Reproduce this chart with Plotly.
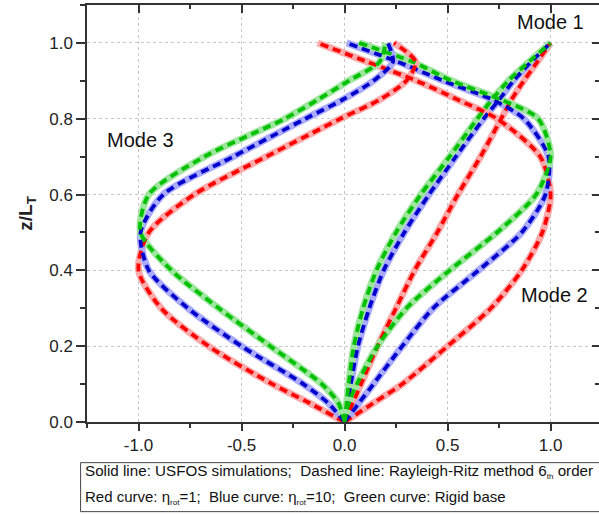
import plotly.graph_objects as go

# Normalised height along the tower
z = [0, 0.05, 0.1, 0.2, 0.3, 0.4, 0.5, 0.6, 0.7, 0.8, 0.85, 0.9, 0.95, 1.0]

# Mode shapes (normalised displacement) for the three base conditions
mode1_red = [0, 0.04, 0.08, 0.16, 0.25, 0.34, 0.45, 0.55, 0.66, 0.76, 0.81, 0.87, 0.935, 1.0]
mode1_blue = [0, 0.015, 0.03, 0.065, 0.12, 0.19, 0.29, 0.41, 0.54, 0.675, 0.75, 0.82, 0.905, 1.0]
mode1_green = [0, 0.01, 0.02, 0.045, 0.09, 0.155, 0.25, 0.37, 0.51, 0.645, 0.715, 0.795, 0.895, 1.0]

mode2_red = [0, 0.14, 0.28, 0.50, 0.71, 0.86, 0.96, 1.0, 0.95, 0.74, 0.55, 0.35, 0.11, -0.13]
mode2_blue = [0, 0.07, 0.14, 0.28, 0.43, 0.65, 0.86, 0.975, 0.99, 0.87, 0.72, 0.48, 0.26, 0.01]
mode2_green = [0, 0.02, 0.06, 0.16, 0.30, 0.51, 0.74, 0.93, 1.0, 0.94, 0.76, 0.52, 0.33, 0.07]

mode3_red = [0, -0.17, -0.35, -0.66, -0.89, -1.0, -0.95, -0.73, -0.38, -0.02, 0.17, 0.30, 0.345, 0.24]
mode3_blue = [0, -0.08, -0.20, -0.50, -0.76, -0.95, -0.99, -0.88, -0.54, -0.19, -0.01, 0.14, 0.235, 0.21]
mode3_green = [0, -0.03, -0.11, -0.36, -0.61, -0.84, -0.99, -0.95, -0.68, -0.29, -0.13, 0.02, 0.17, 0.20]

x_ticks = [-1.0, -0.5, 0.0, 0.5, 1.0]
x_tick_labels = ["-1.0", "-0.5", "0.0", "0.5", "1.0"]
y_ticks = [0.0, 0.2, 0.4, 0.6, 0.8, 1.0]
y_tick_labels = ["0.0", "0.2", "0.4", "0.6", "0.8", "1.0"]

series = [
    (mode1_red, "red"), (mode1_blue, "blue"), (mode1_green, "green"),
    (mode2_red, "red"), (mode2_blue, "blue"), (mode2_green, "green"),
    (mode3_red, "red"), (mode3_blue, "blue"), (mode3_green, "green"),
]

solid_colors = {"red": "#ffaaaa", "blue": "#aaaaff", "green": "#9ee69e"}
dash_colors = {"red": "#ff0000", "blue": "#0000cc", "green": "#00c000"}

fig = go.Figure()

# USFOS simulations: wide pale solid lines
for xs, c in series:
    fig.add_trace(go.Scatter(
        x=xs, y=z, mode="lines", line=dict(color=solid_colors[c], width=7, shape="spline", smoothing=0.75),
        showlegend=False, hoverinfo="skip"))

# Rayleigh-Ritz results: dashed lines on top
for xs, c in series:
    fig.add_trace(go.Scatter(
        x=xs, y=z, mode="lines",
        line=dict(color=dash_colors[c], width=3.8, dash="8px,5px", shape="spline", smoothing=0.75),
        showlegend=False, hoverinfo="skip"))

# empty trace so the mirrored top/right axes are drawn
fig.add_trace(go.Scatter(x=[], y=[], xaxis="x2", yaxis="y2", showlegend=False, hoverinfo="skip"))

axis_color = "#333333"
font = "Liberation Sans, Arial, sans-serif"
x_range = [-1.25, 1.235]
y_range = [0, 1.1]

fig.update_layout(
    width=599, height=514,
    margin=dict(l=87, r=0, t=5, b=92),
    paper_bgcolor="white", plot_bgcolor="white",
    font=dict(family=font, color="#222222"),
    xaxis=dict(
        range=x_range, tickvals=x_ticks, ticktext=x_tick_labels,
        ticks="outside", ticklen=7, tickwidth=1.5, tickcolor=axis_color,
        minor=dict(dtick=0.25, tick0=0, ticks="outside", ticklen=4, tickwidth=1.5, tickcolor=axis_color, showgrid=False),
        showline=True, linecolor=axis_color, linewidth=1.5,
        showgrid=True, gridcolor="#c8c8c8", gridwidth=1, griddash="3px,3px",
        zeroline=False, tickfont=dict(size=17, family=font, color="#222222"),
    ),
    yaxis=dict(
        range=y_range, tickvals=y_ticks, ticktext=y_tick_labels,
        ticks="outside", ticklen=9, tickwidth=1.5, tickcolor=axis_color,
        minor=dict(dtick=0.1, tick0=0, ticks="outside", ticklen=5, tickwidth=1.5, tickcolor=axis_color, showgrid=False),
        showline=True, linecolor=axis_color, linewidth=1.5,
        showgrid=True, gridcolor="#c8c8c8", gridwidth=1, griddash="3px,3px",
        zeroline=False, tickfont=dict(size=17, family=font, color="#222222"),
        title=dict(text="<b>z/L<sub>T</sub></b>", font=dict(size=19, family=font, color="#222222"), standoff=12),
    ),
    xaxis2=dict(
        overlaying="x", side="top", range=x_range, tickvals=x_ticks, showticklabels=False,
        ticks="inside", ticklen=8, tickwidth=1.5, tickcolor=axis_color,
        minor=dict(dtick=0.25, tick0=0, ticks="inside", ticklen=4, tickwidth=1.5, tickcolor=axis_color, showgrid=False),
        showline=True, linecolor=axis_color, linewidth=1.5, showgrid=False, zeroline=False,
    ),
    yaxis2=dict(
        overlaying="y", side="right", range=y_range, tickvals=y_ticks, showticklabels=False,
        ticks="inside", ticklen=7, tickwidth=1.5, tickcolor=axis_color,
        minor=dict(dtick=0.1, tick0=0, ticks="inside", ticklen=4, tickwidth=1.5, tickcolor=axis_color, showgrid=False),
        showline=False, showgrid=False, zeroline=False,
    ),
)

# Mode labels
mode_font = dict(size=20, family=font, color="#111111")
fig.add_annotation(x=1.0, y=1.055, xref="x", yref="y", text="Mode 1", showarrow=False, font=mode_font)
fig.add_annotation(x=1.02, y=0.335, xref="x", yref="y", text="Mode 2", showarrow=False, font=mode_font)
fig.add_annotation(x=-0.99, y=0.745, xref="x", yref="y", text="Mode 3", showarrow=False, font=mode_font)

# Caption box below the axes
fig.add_shape(type="rect", xref="paper", yref="paper",
              x0=-0.0125, x1=1.03, y0=-0.215, y1=-0.0975,
              line=dict(color="#444444", width=1), fillcolor="white")
small = '<span style="font-size:8px">{}</span>'
fig.add_annotation(xref="paper", yref="paper", x=-0.008, y=-0.119, xanchor="left", yanchor="middle",
                   text="Solid line: USFOS simulations;  Dashed line: Rayleigh-Ritz method 6<sub>" + small.format("th") + "</sub> order",
                   showarrow=False, font=dict(size=15.2, family=font, color="#111111"))
fig.add_annotation(xref="paper", yref="paper", x=-0.008, y=-0.180, xanchor="left", yanchor="middle",
                   text="Red curve: η<sub>" + small.format("rot") + "</sub>=1;  Blue curve: η<sub>" + small.format("rot")
                   + "</sub>=10;  Green curve: Rigid base",
                   showarrow=False, font=dict(size=15, family=font, color="#111111"))

fig.write_html("out.html")
